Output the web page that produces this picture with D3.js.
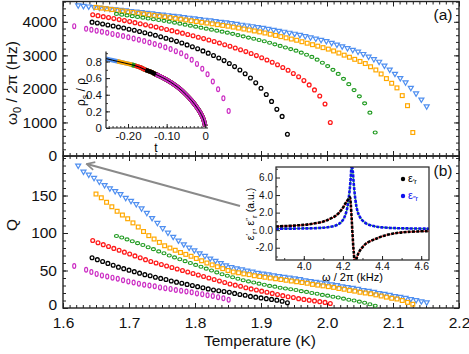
<!DOCTYPE html>
<html><head><meta charset="utf-8">
<script src="https://cdn.jsdelivr.net/npm/d3@7"></script>
<style>
body{margin:0;background:#fff;}
svg{display:block;font-family:"Liberation Sans",Arial,Helvetica,sans-serif;}
</style></head><body>
<script>
// ---- main data: temperature (K), resonance freq (Hz), quality factor ----
var blueT = [1.623,1.631,1.639,1.647,1.655,1.663,1.671,1.679,1.687,1.695,1.703,1.711,1.719,1.727,1.735,1.743,1.751,1.759,1.767,1.775,1.783,1.791,1.799,1.807,1.815,1.823,1.831,1.839,1.847,1.855,1.863,1.871,1.879,1.887,1.895,1.903,1.911,1.919,1.927,1.935,1.943,1.951,1.959,1.967,1.975,1.983,1.991,1.999,2.007,2.015,2.023,2.031,2.039,2.047,2.055,2.063,2.071,2.079,2.087,2.095,2.103,2.111,2.119,2.127,2.135,2.143,2.151];
var blueF = [4490,4473,4457,4440,4424,4407,4390,4374,4357,4340,4323,4305,4287,4269,4251,4233,4215,4197,4179,4161,4142,4122,4102,4082,4062,4042,4022,4002,3982,3960,3937,3914,3891,3868,3844,3819,3790,3762,3733,3704,3675,3645,3609,3572,3535,3498,3461,3425,3374,3321,3268,3215,3163,3110,3042,2964,2887,2810,2695,2575,2452,2324,2196,2033,1865,1684,1480];
var blueQ = [190,182,178,173.5,168.5,164,159.5,156,152,147,143,138.5,133,127,120,113.5,106.5,100.5,95,90,85,80.5,77,73,69.5,66,63,60,57,54.5,53,51.5,50,48.5,47,46,45,43.5,42.5,41.5,40.5,39.5,38.5,37,36,35,34,33,31.5,30.5,29,28,27,25.5,24,23,21.5,20,19,17.5,16,15,13.5,12,10.5,9,7.5];

var orangeT = [1.650,1.658,1.666,1.674,1.682,1.690,1.698,1.706,1.714,1.722,1.730,1.738,1.746,1.754,1.762,1.770,1.778,1.786,1.794,1.802,1.810,1.818,1.826,1.834,1.842,1.850,1.858,1.866,1.874,1.882,1.890,1.898,1.906,1.914,1.922,1.930,1.938,1.946,1.954,1.962,1.970,1.978,1.986,1.994,2.002,2.010,2.018,2.026,2.034,2.042,2.050,2.058,2.066,2.074,2.082,2.090,2.098,2.106,2.114,2.122,2.130];
var orangeF = [4430,4408,4387,4365,4343,4322,4300,4278,4257,4235,4213,4192,4170,4148,4125,4102,4079,4055,4032,4009,3985,3962,3939,3915,3892,3869,3842,3813,3784,3756,3727,3698,3666,3630,3594,3558,3522,3486,3450,3406,3362,3318,3274,3230,3186,3131,3069,3006,2944,2881,2819,2756,2660,2564,2445,2307,2168,2030,1800,1500,700];
var orangeQ = [152,147,141,135,129,124,119,113.5,108,102,96.5,92,87.5,83,80,77,74,71.5,69,66,63,60,57.5,55,52.5,50,48,47,45.5,44.5,43,42,41,40,39,38,37,36,35,34,33,31.5,30.5,29.5,28.5,27.5,26,25,23.5,22.5,21,20,19,17.5,16,14.5,13,12,10,7.5,5];

var greenT = [1.681,1.689,1.697,1.705,1.713,1.721,1.729,1.737,1.745,1.753,1.761,1.769,1.777,1.785,1.793,1.801,1.809,1.817,1.825,1.833,1.841,1.849,1.857,1.865,1.873,1.881,1.889,1.897,1.905,1.913,1.921,1.929,1.937,1.945,1.953,1.961,1.969,1.977,1.985,1.993,2.001,2.009,2.017,2.025,2.033,2.041,2.049,2.057,2.065,2.073];
var greenF = [4235,4212,4190,4167,4145,4122,4099,4076,4053,4030,4005,3975,3945,3915,3885,3855,3825,3795,3765,3735,3705,3675,3642,3605,3568,3531,3494,3457,3420,3375,3328,3281,3234,3187,3138,3080,3018,2952,2870,2780,2680,2570,2445,2300,2140,1965,1780,1570,1290,700];
var greenQ = [96,94,91.5,89,86.5,84,81,78.5,75.5,73,70,67.5,65,62.5,60,57.5,55,52.5,50,47.5,45,43,41,39,37,35.5,34,32.5,31,29.5,28.5,27,26,25,24,22.5,21.5,20,19,17.5,16.5,15,14,12.5,11,10,8.5,7,5,3];

var redT = [1.645,1.653,1.661,1.669,1.677,1.685,1.693,1.701,1.709,1.717,1.725,1.733,1.741,1.749,1.757,1.765,1.773,1.781,1.789,1.797,1.805,1.813,1.821,1.829,1.837,1.845,1.853,1.861,1.869,1.877,1.885,1.893,1.901,1.909,1.917,1.925,1.933,1.941,1.949,1.957,1.965,1.973,1.981,1.989,1.997,2.005];
var redF = [4210,4183,4154,4125,4096,4066,4036,4006,3974,3942,3909,3876,3842,3807,3772,3736,3699,3661,3622,3582,3541,3499,3456,3411,3366,3318,3269,3218,3165,3111,3053,2993,2930,2863,2794,2719,2640,2555,2461,2360,2247,2119,1970,1788,1548,1000];
var redQ = [90,87,84.5,82,79.5,77,74.5,72,69.5,67,64.5,62,60,58,56,54,52,50,48,46,44,42,40,38,36,34,32,30.5,29,27,25.5,24,22.5,21,19.5,18,16.5,15,14,12.5,11.5,10.5,9.5,8.5,7.5,6];

var blackT = [1.644,1.652,1.660,1.668,1.676,1.684,1.692,1.700,1.708,1.716,1.724,1.732,1.740,1.748,1.756,1.764,1.772,1.780,1.788,1.796,1.804,1.812,1.820,1.828,1.836,1.844,1.852,1.860,1.868,1.876,1.884,1.892,1.900,1.908,1.916,1.924,1.932,1.940];
var blackF = [3990,3963,3935,3906,3876,3845,3813,3780,3746,3711,3675,3637,3597,3555,3511,3465,3417,3366,3312,3255,3195,3132,3066,2996,2922,2843,2758,2665,2563,2450,2323,2180,2018,1835,1628,1390,1180,650];
var blackQ = [67,64.5,62,59.5,57,54.5,52.5,50.5,48.5,46.5,44.5,43,41,39.5,38,36,34.5,33,31.5,30,28.5,27,25.5,24,23,22,21,19.5,18,17,15.5,14.5,13.5,12.5,11.5,10.5,9,7];

var magT = [1.617,1.635,1.643,1.651,1.659,1.667,1.675,1.683,1.691,1.699,1.707,1.715,1.723,1.731,1.739,1.747,1.755,1.763,1.771,1.779,1.787,1.795,1.803,1.811,1.819,1.827,1.835,1.843,1.851];
var magF = [3870,3790,3762,3733,3703,3672,3640,3607,3573,3538,3502,3464,3424,3382,3338,3291,3241,3186,3125,3060,2975,2870,2745,2600,2435,2220,1990,1720,1340];
var magQ = [56,51,48,45.5,43.5,42,40.5,39,37,35.5,34,32.5,31,30,29,27.5,26.5,25.5,24,23,22,21,19.5,18.5,17,16,14.5,13,11];

// ---- inset (a): superfluid fraction vs reduced temperature ----
var tCurve   = [-0.257,-0.24,-0.228,-0.21,-0.19,-0.182,-0.17,-0.155,-0.14,-0.128,-0.11,-0.09,-0.07,-0.05,-0.035,-0.02,-0.01,-0.004,0];
var rhoCurve = [0.835,0.815,0.802,0.783,0.761,0.750,0.731,0.700,0.673,0.645,0.605,0.552,0.486,0.403,0.328,0.236,0.160,0.095,0.02];
var tStart = [-0.257,-0.228,-0.19,-0.182,-0.155,-0.128]; // blue, orange, green, red, black, magenta

// ---- inset (b): dielectric response vs frequency (kHz) ----
var freqK = [3.858,3.95,4.0,4.05,4.1,4.13,4.16,4.185,4.2,4.21,4.22,4.23,4.236,4.24,4.245,4.25,4.255,4.262,4.27,4.28,4.296,4.32,4.35,4.373,4.40,4.458,4.53,4.64];
var eps1  = [0.42,0.52,0.6,0.75,0.98,1.25,1.6,2.1,2.55,2.95,3.3,3.6,3.75,3.0,1.2,-0.8,-2.4,-3.8,-3.2,-2.6,-2.05,-1.5,-1.15,-0.95,-0.7,-0.38,-0.2,-0.1];
var eps2  = [0.17,0.18,0.2,0.22,0.28,0.36,0.5,0.8,1.15,1.6,2.3,3.7,4.9,6.0,7.4,6.8,5.4,3.8,2.6,1.8,1.2,0.75,0.5,0.4,0.32,0.24,0.2,0.17];

// ticks
var xMajor = [1.6,1.7,1.8,1.9,2.0,2.1,2.2];
var yAMajor = [0,1000,2000,3000,4000];
var yBMajor = [0,50,100,150];

var colors = ["#4f8ff0","#ffa800","#1f9a1f","#ff1a1a","#000000","#cc2fc4"];
var shapes = ["tri","sq","ell","circ","circ","dia"];
var series = [
  {T: blueT, F: blueF, Q: blueQ},
  {T: orangeT, F: orangeF, Q: orangeQ},
  {T: greenT, F: greenF, Q: greenQ},
  {T: redT, F: redF, Q: redQ},
  {T: blackT, F: blackF, Q: blackQ},
  {T: magT, F: magF, Q: magQ}
];

var W = 469, H = 354;
var L = 63, R = 459, topA = 1.5, mid = 156, botB = 308;

var svg = d3.select("body").append("svg").attr("width", W).attr("height", H);
var defs = svg.append("defs");

var x = d3.scaleLinear().domain([1.6, 2.2]).range([L, R]);
var yA = d3.scaleLinear().domain([0, 4605]).range([mid, topA]);
var yB = d3.scaleLinear().domain([0, 202.7]).range([botB, mid]);

defs.append("clipPath").attr("id", "clipA").append("rect")
  .attr("x", L).attr("y", topA).attr("width", R - L).attr("height", mid - topA);
defs.append("clipPath").attr("id", "clipB").append("rect")
  .attr("x", L).attr("y", mid).attr("width", R - L).attr("height", botB - mid);

// tick helper (no labels)
function tickRow(transform, axisFn, scale, vals, len) {
  var g = svg.append("g").attr("transform", transform)
    .call(axisFn(scale).tickValues(vals).tickSize(len).tickFormat(""));
  g.select(".domain").remove();
  g.selectAll("line").attr("stroke", "#222").attr("stroke-width", 1);
  return g;
}

var xMinor = d3.range(160, 221).map(function(d){ return d / 100; });
var yAMinor = d3.range(0, 4601, 200);
var yBMinor = d3.range(0, 201, 10);

// panel (a) ticks
tickRow("translate(0," + topA + ")", d3.axisTop, x, xMinor, -3);
tickRow("translate(0," + topA + ")", d3.axisTop, x, xMajor, -5);
tickRow("translate(0," + mid + ")", d3.axisBottom, x, xMinor, -3);
tickRow("translate(0," + mid + ")", d3.axisBottom, x, xMajor, -5);
tickRow("translate(" + L + ",0)", d3.axisLeft, yA, yAMinor, -3);
tickRow("translate(" + R + ",0)", d3.axisRight, yA, yAMinor, -3);
tickRow("translate(" + R + ",0)", d3.axisRight, yA, yAMajor, -5);
// panel (b) ticks
tickRow("translate(0," + mid + ")", d3.axisTop, x, xMinor, -3);
tickRow("translate(0," + mid + ")", d3.axisTop, x, xMajor, -5);
tickRow("translate(0," + botB + ")", d3.axisBottom, x, xMinor, -3);
tickRow("translate(" + L + ",0)", d3.axisLeft, yB, yBMinor, -3);
tickRow("translate(" + R + ",0)", d3.axisRight, yB, yBMinor, -3);
tickRow("translate(" + R + ",0)", d3.axisRight, yB, yBMajor, -5);

// labelled axes
function styleAxis(g, size) {
  g.select(".domain").remove();
  g.selectAll("line").attr("stroke", "#222").attr("stroke-width", 1);
  g.selectAll("text").attr("fill", "#111").style("font-size", size + "px")
    .style("font-family", "'Liberation Sans',Arial,Helvetica,sans-serif");
}
styleAxis(svg.append("g").attr("transform", "translate(0," + botB + ")")
  .call(d3.axisBottom(x).tickValues(xMajor).tickSize(-5).tickPadding(9).tickFormat(d3.format(".1f"))), 15.5);
styleAxis(svg.append("g").attr("transform", "translate(" + L + ",0)")
  .call(d3.axisLeft(yA).tickValues(yAMajor).tickSize(-5).tickPadding(6).tickFormat(d3.format("d"))), 15.5);
var qAx = svg.append("g").attr("transform", "translate(" + L + ",0)")
  .call(d3.axisLeft(yB).tickValues(yBMajor).tickSize(-5).tickPadding(6).tickFormat(d3.format("d")));
styleAxis(qAx, 15.5);
qAx.selectAll("text").filter(function(d){ return d === 0; }).attr("dy", "0.1em");

// frames
svg.append("rect").attr("x", L).attr("y", topA).attr("width", R - L).attr("height", mid - topA)
  .attr("fill", "none").attr("stroke", "#222").attr("stroke-width", 1.4);
svg.append("rect").attr("x", L).attr("y", mid).attr("width", R - L).attr("height", botB - mid)
  .attr("fill", "none").attr("stroke", "#222").attr("stroke-width", 1.4);

// markers
var triPath = d3.symbol().type(d3.symbolTriangle).size(11)();
function drawMarkers(g, pts, shape, color) {
  var sel;
  if (shape === "tri") {
    sel = g.selectAll("path").data(pts).enter().append("path").attr("d", triPath)
      .attr("transform", function(d){ return "translate(" + d[0] + "," + d[1] + ") rotate(180)"; });
  } else if (shape === "sq") {
    sel = g.selectAll("rect").data(pts).enter().append("rect")
      .attr("x", function(d){ return d[0] - 1.9; }).attr("y", function(d){ return d[1] - 1.9; })
      .attr("width", 3.8).attr("height", 3.8);
  } else if (shape === "ell") {
    sel = g.selectAll("ellipse").data(pts).enter().append("ellipse")
      .attr("cx", function(d){ return d[0]; }).attr("cy", function(d){ return d[1]; })
      .attr("rx", 2).attr("ry", 1.5);
  } else if (shape === "dia") {
    sel = g.selectAll("ellipse").data(pts).enter().append("ellipse")
      .attr("cx", function(d){ return d[0]; }).attr("cy", function(d){ return d[1]; })
      .attr("rx", 1.5).attr("ry", 2.4);
  } else {
    sel = g.selectAll("circle").data(pts).enter().append("circle")
      .attr("cx", function(d){ return d[0]; }).attr("cy", function(d){ return d[1]; })
      .attr("r", 1.9);
  }
  sel.attr("fill", "none").attr("stroke", color).attr("stroke-width", shape === "circ" ? 1.3 : 1.2);
}

var gA = svg.append("g").attr("clip-path", "url(#clipA)");
var gB = svg.append("g").attr("clip-path", "url(#clipB)");
series.forEach(function(s, i) {
  var ptsA = s.T.map(function(t, j){ return [x(t), yA(s.F[j])]; });
  var ptsB = s.T.map(function(t, j){ return [x(t), yB(s.Q[j])]; });
  drawMarkers(gA.append("g"), ptsA, shapes[i], colors[i]);
  drawMarkers(gB.append("g"), ptsB, shapes[i], colors[i]);
});

// axis titles
var yt = svg.append("text").attr("transform", "translate(17,83) rotate(-90)")
  .attr("text-anchor", "middle").style("font-size", "15.5px").attr("fill", "#111");
yt.append("tspan").text("ω");
yt.append("tspan").attr("dy", 4).style("font-size", "11px").text("0");
yt.append("tspan").attr("dy", -4).text(" / 2π (Hz)");
svg.append("text").attr("transform", "translate(17,225) rotate(-90)")
  .attr("text-anchor", "middle").style("font-size", "15.5px").attr("fill", "#111").text("Q");
svg.append("text").attr("x", 260).attr("y", 346).attr("text-anchor", "middle")
  .style("font-size", "15.5px").attr("fill", "#111").text("Temperature (K)");
svg.append("text").attr("x", 443).attr("y", 20).attr("text-anchor", "middle")
  .style("font-size", "15.5px").attr("fill", "#111").text("(a)");
svg.append("text").attr("x", 443).attr("y", 176).attr("text-anchor", "middle")
  .style("font-size", "15.5px").attr("fill", "#111").text("(b)");

// arrow from inset to the curve
var mk = defs.append("marker").attr("id", "ah").attr("viewBox", "0 0 10 10")
  .attr("refX", 8.5).attr("refY", 5).attr("markerWidth", 5).attr("markerHeight", 5).attr("orient", "auto");
mk.append("path").attr("d", "M1,1 L9,5 L1,9").attr("fill", "none").attr("stroke", "#8a8a8a").attr("stroke-width", 1.6);
svg.append("line").attr("x1", 240).attr("y1", 206).attr("x2", 87).attr("y2", 164)
  .attr("stroke", "#8a8a8a").attr("stroke-width", 2).attr("marker-end", "url(#ah)");

// ---------- inset (a) ----------
var xi = d3.scaleLinear().domain([-0.257, 0.007]).range([106, 208]);
var yi = d3.scaleLinear().domain([0, 0.92]).range([128, 51.5]);
var gi = svg.append("g");
var curve = tCurve.map(function(t, j){ return [t, rhoCurve[j]]; });
var lineI = d3.line().x(function(d){ return xi(d[0]); }).y(function(d){ return yi(d[1]); }).curve(d3.curveMonotoneX);
tStart.forEach(function(t0, i) {
  gi.append("path").datum(curve.filter(function(d){ return d[0] >= t0 - 1e-9; }))
    .attr("d", lineI).attr("fill", "none").attr("stroke", colors[i]).attr("stroke-width", 4.5);
});
gi.append("path").datum(curve).attr("d", lineI).attr("fill", "none").attr("stroke", "#000").attr("stroke-width", 1);

function insetTicks(transform, axisFn, scale, vals, len) {
  var g = gi.append("g").attr("transform", transform)
    .call(axisFn(scale).tickValues(vals).tickSize(len).tickFormat(""));
  g.select(".domain").remove();
  g.selectAll("line").attr("stroke", "#222").attr("stroke-width", 0.9);
}
insetTicks("translate(0,128)", d3.axisBottom, xi, d3.range(-25, 1).map(function(d){ return d / 100; }), -2);
insetTicks("translate(106,0)", d3.axisLeft, yi, d3.range(0, 10).map(function(d){ return d / 10; }), -2);
var ixl = gi.append("g").attr("transform", "translate(0,128)")
  .call(d3.axisBottom(xi).tickValues([-0.2, -0.1, 0]).tickSize(-4).tickPadding(4)
    .tickFormat(function(d){ return d === 0 ? "0" : "-" + Math.abs(d).toFixed(2); }));
styleAxis(ixl, 11.5);
var iyl = gi.append("g").attr("transform", "translate(106,0)")
  .call(d3.axisLeft(yi).tickValues([0, 0.2, 0.4, 0.6, 0.8]).tickSize(-4).tickPadding(4)
    .tickFormat(function(d){ return d === 0 ? "0" : d.toFixed(1); }));
styleAxis(iyl, 11.5);
gi.append("line").attr("x1", 106).attr("x2", 106).attr("y1", 51.5).attr("y2", 128).attr("stroke", "#222").attr("stroke-width", 1.2);
gi.append("line").attr("x1", 106).attr("x2", 208).attr("y1", 128).attr("y2", 128).attr("stroke", "#222").attr("stroke-width", 1.2);
gi.append("text").attr("x", 156).attr("y", 152).attr("text-anchor", "middle").style("font-size", "12px").text("t");
var rl = gi.append("text").attr("transform", "translate(85,92) rotate(-90)").attr("text-anchor", "middle").style("font-size", "12px");
rl.append("tspan").text("ρ");
rl.append("tspan").attr("dy", 3).style("font-size", "9px").text("s");
rl.append("tspan").attr("dy", -3).text(" / ρ");

// ---------- inset (b) ----------
var bx0 = 276, bx1 = 429, by0 = 167, by1 = 260;
var xk = d3.scaleLinear().domain([3.858, 4.64]).range([bx0, bx1]);
var ye = d3.scaleLinear().domain([-3.4, 7.2]).range([by1, by0]);
var gk = svg.append("g");
gk.append("rect").attr("x", bx0).attr("y", by0).attr("width", bx1 - bx0).attr("height", by1 - by0).attr("fill", "#fff");
defs.append("clipPath").attr("id", "clipK").append("rect")
  .attr("x", bx0).attr("y", by0).attr("width", bx1 - bx0).attr("height", by1 - by0);
var gkc = gk.append("g").attr("clip-path", "url(#clipK)");
function lineK(vals) {
  return d3.line().x(function(d, j){ return xk(freqK[j]); }).y(function(d){ return ye(d); })
    .curve(d3.curveCatmullRom)(vals);
}
gkc.append("path").attr("d", lineK(eps1)).attr("fill", "none").attr("stroke", "#ff3030").attr("stroke-width", 1.2);
gkc.append("path").attr("d", lineK(eps2)).attr("fill", "none").attr("stroke", "#30c030").attr("stroke-width", 1.2);
gkc.append("path").attr("d", lineK(eps2)).attr("fill", "none").attr("stroke", "#1010ee").attr("stroke-width", 2.6).attr("stroke-dasharray", "3,1.2");
gkc.append("path").attr("d", lineK(eps1)).attr("fill", "none").attr("stroke", "#000").attr("stroke-width", 2.6).attr("stroke-dasharray", "3,1.2");

function kTicks(transform, axisFn, scale, vals, len) {
  var g = gk.append("g").attr("transform", transform)
    .call(axisFn(scale).tickValues(vals).tickSize(len).tickFormat(""));
  g.select(".domain").remove();
  g.selectAll("line").attr("stroke", "#222").attr("stroke-width", 0.9);
}
kTicks("translate(0," + by1 + ")", d3.axisBottom, xk, d3.range(39, 47).map(function(d){ return d / 10; }), -2);
kTicks("translate(" + bx0 + ",0)", d3.axisLeft, ye, [-3, -1, 1, 3, 5, 7], -2);
var kxl = gk.append("g").attr("transform", "translate(0," + by1 + ")")
  .call(d3.axisBottom(xk).tickValues([4.0, 4.2, 4.4, 4.6]).tickSize(-4).tickPadding(3).tickFormat(d3.format(".1f")));
styleAxis(kxl, 10.5);
var kyl = gk.append("g").attr("transform", "translate(" + bx0 + ",0)")
  .call(d3.axisLeft(ye).tickValues([-2, 0, 2, 4, 6]).tickSize(-4).tickPadding(3)
    .tickFormat(function(d){ return (d < 0 ? "-" : "") + Math.abs(d).toFixed(1); }));
styleAxis(kyl, 10);
gk.append("rect").attr("x", bx0).attr("y", by0).attr("width", bx1 - bx0).attr("height", by1 - by0)
  .attr("fill", "none").attr("stroke", "#222").attr("stroke-width", 1.2);
gk.append("text").attr("x", (bx0 + bx1) / 2).attr("y", 281).attr("text-anchor", "middle")
  .style("font-size", "11px").text("ω / 2π (kHz)");
var el = gk.append("text").attr("transform", "translate(254,214) rotate(-90)").attr("text-anchor", "middle").style("font-size", "10.5px");
el.append("tspan").text("ε");
el.append("tspan").attr("dy", -3).style("font-size", "8px").text("′");
el.append("tspan").attr("dy", 6).style("font-size", "8px").text("r");
el.append("tspan").attr("dy", -3).text(", ε");
el.append("tspan").attr("dy", -3).style("font-size", "8px").text("″");
el.append("tspan").attr("dy", 6).style("font-size", "8px").text("r");
el.append("tspan").attr("dy", -3).text(" (a.u.)");

// legend
var legC = ["#000", "#1010ee"], legS = ["′r", "″r"];
legC.forEach(function(c, i) {
  var ly = 182 + i * 17;
  gk.append("circle").attr("cx", 403).attr("cy", ly - 3).attr("r", 2.2).attr("fill", c);
  var t = gk.append("text").attr("x", 408).attr("y", ly).style("font-size", "11px").attr("fill", c);
  t.append("tspan").text("ε");
  t.append("tspan").attr("dy", 2).style("font-size", "7.5px").text(legS[i]);
});
</script>
</body></html>
